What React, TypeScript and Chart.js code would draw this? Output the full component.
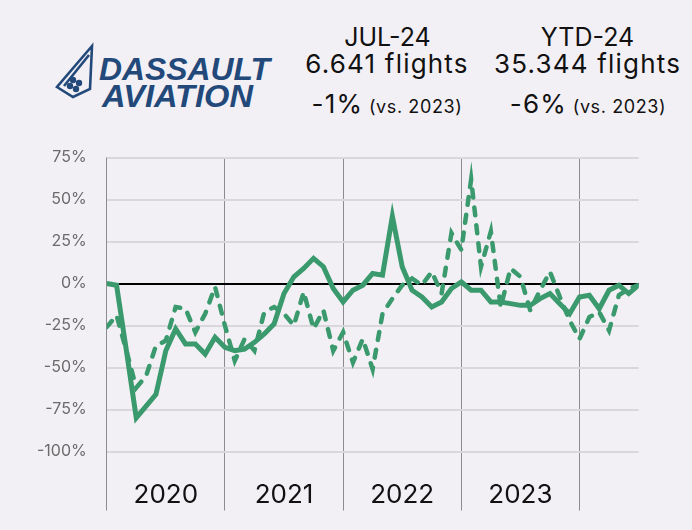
import React, { useEffect, useRef } from 'react';
import { Chart, registerables } from 'chart.js';

Chart.register(...registerables);

// Jan-2020 ... Jul-2024 (55 months)
const monthIndex: number[] = Array.from({ length: 55 }, (_, i) => i);
const yearLabels = ['2020', '2021', '2022', '2023'];
const yearTickValues = [6, 18, 30, 42];
const yearLineValues = [0, 12, 24, 36, 48];
const yTickValues = [75, 50, 25, 0, -25, -50, -75, -100];

const solidSeries = [
  0, -1, -40, -80, -73, -66, -40, -27, -36, -36, -42, -32,
  -38, -40, -39, -35, -30, -24, -6, 4, 9, 15, 10, -3,
  -11, -4, -1, 6, 5, 40, 10, -4, -8, -14, -11, -3,
  1, -4, -4, -11, -11, -12, -13, -13, -9, -6, -12, -18,
  -8, -7, -15, -4, -1, -6, -1,
];

const dashedSeries = [
  -26, -19, -40, -62, -55, -37, -34, -14, -15, -29, -18, -2,
  -25, -46, -33, -40, -17, -14, -18, -25, -5, -27, -16, -40,
  -29, -47, -33, -51, -18, -9, -1, 3, -1, 7, -6, 30,
  20, 62, 10, 31, -14, 9, 4, -16, -4, 7, -8, -22,
  -33, -20, -17, -28, -7, -3, -1,
];

const GREEN = '#3a9a6d';
const BG = '#f3f0f5';

function App() {
  const canvasRef = useRef<HTMLCanvasElement | null>(null);

  useEffect(() => {
    document.body.style.margin = '0';
    document.body.style.background = BG;
    const canvas = canvasRef.current;
    if (!canvas) return;
    const chart = new Chart(canvas, {
      type: 'line',
      data: {
        datasets: [
          {
            data: monthIndex.map((i) => ({ x: i, y: solidSeries[i] })),
            borderColor: GREEN,
            borderWidth: 5,
            pointRadius: 0,
            tension: 0,
            fill: false,
          },
          {
            data: monthIndex.map((i) => ({ x: i, y: dashedSeries[i] })),
            borderColor: GREEN,
            borderWidth: 4.5,
            borderDash: [8, 10],
            borderCapStyle: 'round',
            pointRadius: 0,
            tension: 0,
            fill: false,
          },
        ],
      },
      options: {
        animation: false,
        responsive: false,
        layout: { padding: { top: 17.5, left: 0, right: 53.4, bottom: 0 } },
        plugins: { legend: { display: false }, tooltip: { enabled: false } },
        scales: {
          x: {
            type: 'linear',
            min: 0,
            max: 54,
            afterBuildTicks: (s: any) => {
              const vals = [...yearLineValues, ...yearTickValues].sort((a, b) => a - b);
              s.ticks = vals.map((v) => ({ value: v }));
            },
            afterFit: (s: any) => {
              s.height = 78.5;
              s.paddingLeft = 0;
              s.paddingRight = 0;
            },
            ticks: {
              autoSkip: false,
              maxRotation: 0,
              color: '#111',
              padding: -31,
              font: { family: 'Inter', size: 26 },
              callback: (v: any) => {
                const k = yearTickValues.indexOf(Number(v));
                return k >= 0 ? yearLabels[k] : '';
              },
            },
            grid: {
              color: (ctx: any) =>
                ctx.tick && yearLineValues.includes(ctx.tick.value) ? '#8c8c8c' : 'rgba(0,0,0,0)',
              lineWidth: 1,
              tickLength: 59,
            },
            border: { display: false },
          },
          y: {
            min: -100,
            max: 75,
            afterBuildTicks: (s: any) => {
              s.ticks = yTickValues.map((v) => ({ value: v }));
            },
            afterFit: (s: any) => {
              s.width = 106.7;
              s.paddingTop = 0;
              s.paddingBottom = 0;
            },
            ticks: {
              color: '#6b6b6b',
              padding: 20,
              font: { family: 'Inter', size: 16 },
              callback: (v: any) => `${v}%`,
            },
            grid: {
              color: (ctx: any) => (ctx.tick && ctx.tick.value === 0 ? '#000000' : '#d9d7db'),
              lineWidth: 2,
              drawTicks: false,
            },
            border: { display: false },
          },
        },
      },
    } as any);
    return () => chart.destroy();
  }, []);

  const headStyle: React.CSSProperties = {
    position: 'absolute',
    width: 240,
    textAlign: 'center',
    fontFamily: 'Inter, sans-serif',
    fontSize: 25,
    lineHeight: '25px',
    color: '#111',
    whiteSpace: 'nowrap',
  };
  const bigLine: React.CSSProperties = { fontSize: 26, letterSpacing: '1.2px' };
  const smallPart: React.CSSProperties = { fontSize: 18, letterSpacing: '0.6px' };

  return (
    <div
      style={{
        position: 'fixed',
        left: 0,
        top: 0,
        width: 692,
        height: 530,
        background: BG,
        overflow: 'hidden',
      }}
    >
      <svg width={692} height={140} style={{ position: 'absolute', left: 0, top: 0 }}>
        <g fill="none" stroke="#22497a" strokeWidth={2.6} strokeLinejoin="miter">
          <path d="M92 46 L57 87 L73 97 L90 89 Z" />
          <path d="M89 55 L64 86" />
        </g>
        <g fill="#22497a">
          <ellipse cx={73} cy={80} rx={3.2} ry={3.2} />
          <ellipse cx={79} cy={83} rx={3.2} ry={3.2} />
          <ellipse cx={70} cy={86} rx={3.2} ry={3.2} />
          <ellipse cx={76} cy={89} rx={3.2} ry={3.2} />
        </g>
        <text
          x={99}
          y={80}
          fontFamily="Liberation Sans, Arial, sans-serif"
          fontWeight="bold"
          fontStyle="italic"
          fontSize={31}
          fill="#22497a"
          textLength={171}
          lengthAdjust="spacingAndGlyphs"
        >
          DASSAULT
        </text>
        <text
          x={102}
          y={107}
          fontFamily="Liberation Sans, Arial, sans-serif"
          fontWeight="bold"
          fontStyle="italic"
          fontSize={31}
          fill="#22497a"
          textLength={151}
          lengthAdjust="spacingAndGlyphs"
        >
          AVIATION
        </text>
      </svg>

      <div style={{ ...headStyle, left: 387.5 - 120, top: 25 }}>JUL-24</div>
      <div style={{ ...headStyle, ...bigLine, left: 387 - 120, top: 51 }}>6.641 flights</div>
      <div style={{ ...headStyle, ...bigLine, left: 387 - 120, top: 91 }}>
        -1%<span style={smallPart}> (vs. 2023)</span>
      </div>

      <div style={{ ...headStyle, left: 587.5 - 120, top: 25 }}>YTD-24</div>
      <div style={{ ...headStyle, ...bigLine, left: 587.5 - 120, top: 51 }}>35.344 flights</div>
      <div style={{ ...headStyle, ...bigLine, left: 588 - 120, top: 91 }}>
        -6%<span style={smallPart}> (vs. 2023)</span>
      </div>

      <div style={{ position: 'absolute', left: 0, top: 140, width: 692, height: 390 }}>
        <canvas ref={canvasRef} width={692} height={390} />
      </div>
    </div>
  );
}

export default App;
